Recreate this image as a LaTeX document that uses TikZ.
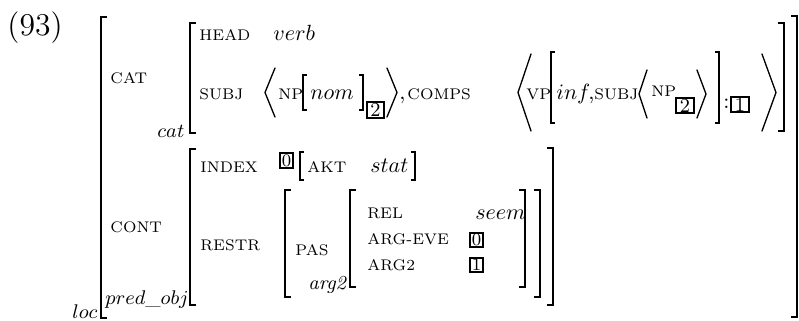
\documentclass[tikz,border=0pt]{standalone}
\usepackage{amsmath}
\usepackage{tikz}

% square brackets of the matrices: x, top, bottom
\newcommand{\avmL}[3]{\draw[brk] (#1+6,#2) -- (#1,#2) -- (#1,#3) -- (#1+6,#3);}
\newcommand{\avmR}[3]{\draw[brk] (#1-6,#2) -- (#1,#2) -- (#1,#3) -- (#1-6,#3);}

\begin{document}
\begin{tikzpicture}[x=0.4545pt, y=-0.4545pt,
  lab/.style={anchor=base west, inner sep=0pt},
  feat/.style={lab, font=\scriptsize},
  typ/.style={lab, font=\small},
  brk/.style={line width=0.9pt, line cap=butt},
  sbrk/.style={line width=0.55pt},
  ang/.style={line width=0.6pt, line cap=round},
  tag/.style={draw, line width=1pt, inner sep=0pt, font=\small,
              minimum width=8pt, minimum height=7pt},
  tagsm/.style={tag, font=\footnotesize, minimum width=6.2pt, minimum height=6.6pt}]

\useasboundingbox (0,0) rectangle (799,320);

% ---- example number and outer matrix ---------------------------------
\node[lab, font=\Large] (num) at (7,35) {(93)};
\avmL{101}{17}{318}
\avmR{797}{16}{317}
\node[typ] (loc) at (72,318) {$loc$};
\node[typ] (predobj) at (105,304) {$pred\_obj$};

% ---- CAT ---------------------------------------------------------------
\node[feat] (cat) at (110,83) {CAT};
\avmL{190}{23}{133}
\avmR{784}{23}{131}
\node[typ] (cattype) at (157,137) {$cat$};

\node[feat] (head) at (199,40) {HEAD};
\node[lab] (verb) at (273,40) {$verb$};

\node[feat] (subj) at (199,99) {SUBJ};
\draw[ang] (275,68) -- (265,92.5) -- (275,117);
\node[feat] (np) at (278,99) {NP};
\draw[sbrk] (307,75) -- (303,75) -- (303,110) -- (307,110);
\node[lab] (nom) at (310,99) {$nom$};
\draw[sbrk] (359,75) -- (363,75) -- (363,110) -- (359,110);
\node[tag] (tagtwo) at (375.5,110) {2};
\draw[ang] (387,68) -- (397,92.5) -- (387,117);
\node[lab] (comma) at (399,99) {,};
\node[feat] (comps) at (407,99) {COMPS};

\draw[ang] (531,54) -- (518,92.5) -- (531,131);
\node[feat] (vp) at (526,99) {VP};
\draw[sbrk] (555,52) -- (551,52) -- (551,123) -- (555,123);
\node[lab] (inf) at (556,99) {$inf$};
\node[lab] (commatwo) at (588,99) {,};
\node[feat] (subjtwo) at (594,99) {SUBJ};
\draw[ang] (647,70) -- (639,94) -- (647,118);
\node[feat] (nptwo) at (651,96) {NP};
\node[tag] (tagtwob) at (685,105.5) {2};
\draw[ang] (697,70) -- (706,94) -- (697,118);
\draw[sbrk] (715,52) -- (719,52) -- (719,123) -- (715,123);
\node[lab] (colon) at (723,108) {:};
\node[tag] (tagone) at (740,104.5) {1};
\draw[ang] (762,54) -- (776,92.5) -- (762,131);

% ---- CONT --------------------------------------------------------------
\node[feat] (cont) at (110,232) {CONT};
\avmL{190}{149}{305}
\avmR{553}{148}{305}

\node[feat] (index) at (200,172) {INDEX};
\node[tagsm] (tagzero) at (286.5,160.5) {0};
\draw[sbrk] (304,152) -- (300,152) -- (300,180) -- (304,180);
\node[feat] (akt) at (307,172) {AKT};
\node[lab] (stat) at (370,172) {$stat$};
\draw[sbrk] (411,152) -- (415,152) -- (415,180) -- (411,180);

\node[feat] (restr) at (200,250) {RESTR};
\avmL{285}{190}{297}
\avmR{540}{190}{297}
\node[feat] (pas) at (295,255) {PAS};
\node[typ] (argtype) at (308,289) {\textit{arg2}};
\avmL{350}{190}{287}
\avmR{525}{190}{287}

\node[feat] (rel) at (367,218) {REL};
\node[lab] (seem) at (475,219) {$seem$};
\node[feat] (argeve) at (367,244) {ARG-EVE};
\node[tagsm] (tagzerob) at (476.5,240) {0};
\node[feat] (argtwo) at (367,270) {ARG2};
\node[tagsm] (tagoneb) at (476.5,265) {1};

\end{tikzpicture}
\end{document}
